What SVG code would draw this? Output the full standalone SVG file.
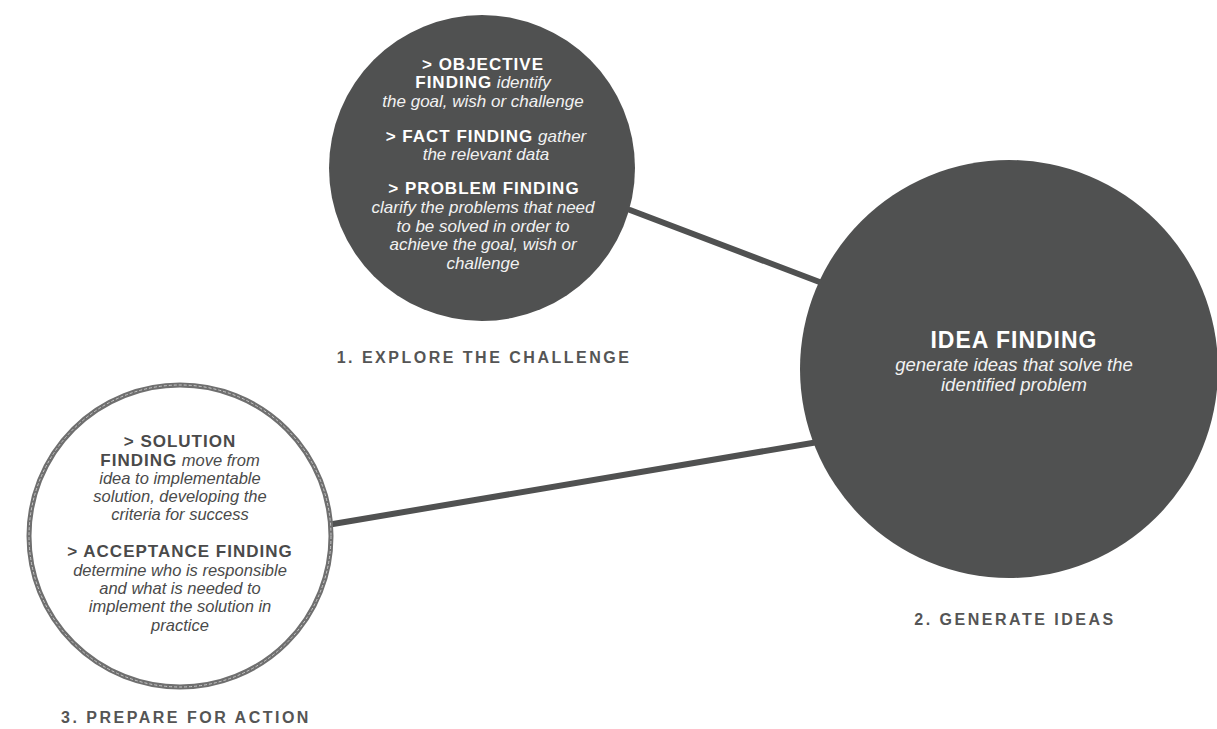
<svg xmlns="http://www.w3.org/2000/svg" width="1217" height="729" viewBox="0 0 1217 729">
<style>
.dark{fill:#505151}
.wb{font-family:"Liberation Sans",Arial,sans-serif;font-weight:bold;fill:#ffffff;font-size:17px;letter-spacing:1px}
.wi{font-family:"Liberation Sans",Arial,sans-serif;font-style:italic;fill:#f2f2f2;font-size:17px}
.db{font-family:"Liberation Sans",Arial,sans-serif;font-weight:bold;fill:#4a4a4a;font-size:17px;letter-spacing:1px}
.di{font-family:"Liberation Sans",Arial,sans-serif;font-style:italic;fill:#4a4a4a;font-size:16.5px}
.lab{font-family:"Liberation Sans",Arial,sans-serif;font-weight:bold;fill:#555;font-size:16px;letter-spacing:2.5px}
.conn{stroke:#505151;stroke-width:6;stroke-linecap:round;fill:none}
</style>
<rect width="1217" height="729" fill="#ffffff"/>
<g id="connectors">
<line class="conn" x1="630" y1="210" x2="830" y2="286"/>
<line class="conn" x1="333" y1="524" x2="830" y2="440"/>
</g>
<g id="explore" text-anchor="middle">
<circle class="dark" cx="482" cy="168" r="153"/>
<text class="wb" x="483" y="70">&gt; OBJECTIVE</text>
<text x="483" y="88"><tspan class="wb">FINDING</tspan><tspan class="wi"> identify</tspan></text>
<text class="wi" x="483" y="107">the goal, wish or challenge</text>
<text x="486" y="142"><tspan class="wb">&gt; FACT FINDING</tspan><tspan class="wi"> gather</tspan></text>
<text class="wi" x="486" y="160">the relevant data</text>
<text class="wb" x="484" y="194">&gt; PROBLEM FINDING</text>
<text class="wi" x="483" y="213">clarify the problems that need</text>
<text class="wi" x="483" y="232">to be solved in order to</text>
<text class="wi" x="483" y="250">achieve the goal, wish or</text>
<text class="wi" x="483" y="269">challenge</text>
<text class="lab" x="484" y="363">1. EXPLORE THE CHALLENGE</text>
</g>
<g id="generate" text-anchor="middle">
<circle class="dark" cx="1009" cy="369" r="209"/>
<text class="wb" x="1014" y="348" style="font-size:23px">IDEA FINDING</text>
<text class="wi" x="1014" y="371" style="font-size:18.5px">generate ideas that solve the</text>
<text class="wi" x="1014" y="391" style="font-size:18.5px">identified problem</text>
<text class="lab" x="1015" y="625">2. GENERATE IDEAS</text>
</g>
<g id="prepare" text-anchor="middle">
<circle cx="180" cy="536" r="151" fill="#ffffff" stroke="#6f6f6f" stroke-width="5"/>
<circle cx="180" cy="536" r="151" fill="none" stroke="#c8c8c8" stroke-width="1" stroke-dasharray="3 2"/>
<text class="db" x="180" y="447">&gt; SOLUTION</text>
<text x="180" y="466"><tspan class="db">FINDING</tspan><tspan class="di"> move from</tspan></text>
<text class="di" x="180" y="484">idea to implementable</text>
<text class="di" x="180" y="502">solution, developing the</text>
<text class="di" x="180" y="520">criteria for success</text>
<text class="db" x="180" y="557">&gt; ACCEPTANCE FINDING</text>
<text class="di" x="180" y="576">determine who is responsible</text>
<text class="di" x="180" y="594">and what is needed to</text>
<text class="di" x="180" y="612">implement the solution in</text>
<text class="di" x="180" y="631">practice</text>
<text class="lab" x="186" y="723">3. PREPARE FOR ACTION</text>
</g>
</svg>
